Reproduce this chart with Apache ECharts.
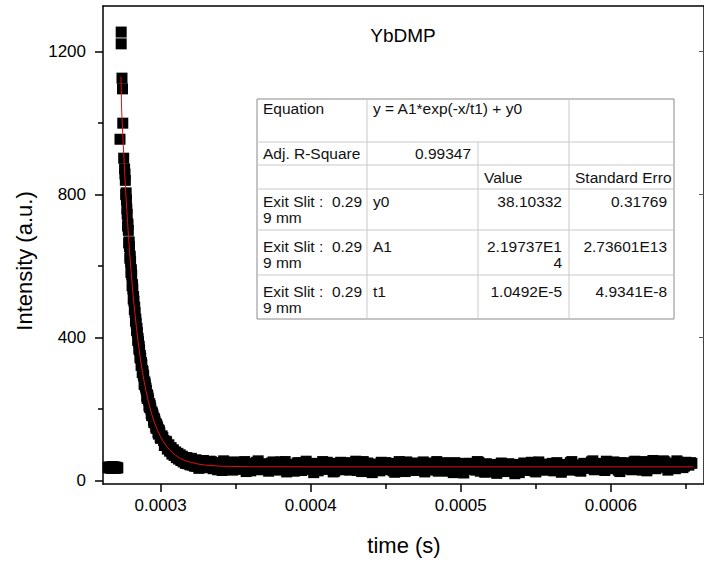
<!DOCTYPE html>
<html><head><meta charset="utf-8">
<script src="https://cdn.jsdelivr.net/npm/echarts@6/dist/echarts.min.js"></script>
<style>html,body{margin:0;padding:0;background:#fff}#c{width:704px;height:563px}</style>
</head><body><div id="c"></div>
<script>
// ---------------- data (time in microseconds, intensity in a.u.) ----------------
const preTimesUs = [265,265.5,266,266.5,267,267.5,268,268.5,269,269.5,270,270.5,271,271.5];
const preValues  = [37,35,38,36,34,37,39,35,36,38,34,37,36,35];

const peakTimesUs = [273.74,273.74,274.27,274.6,274.8,272.94,275.4];
const peakValues  = [1255,1222,1126,1096,1000,955,902];

// decay, first set of readings
const decayAStartUs = 276, decayAStepUs = 0.5;
const decayAValues = [872,840,805,760,712,700,668,622,612,590,545,536,515,478,470,452,420,414,398,368,
  365,350,322,324,308,296,270,276,262,252,230,236,225,205,210,200,182,188,180,162,170,160,146,154,148,130,140,133,118];
// decay, interleaved readings
const decayA2StartUs = 276.25, decayA2StepUs = 0.5;
const decayA2Values = [858,800,785,745,718,665,655,628,582,575,548,508,502,485,446,440,426,392,388,376,
  344,342,330,302,305,292,268,270,258,236,240,230,210,215,205,188,192,185,168,174,166,150,158,150,135,142,136,120];

const decayBStartUs = 301, decayBStepUs = 1;
const decayBValues = [125,112,98,108,96,82,92,84,70,80,74,60,72,66,52,64,58,47,60,54,43,56,50,40,52,47,36,50,45];
const decayB2StartUs = 301.5, decayB2StepUs = 1;
const decayB2Values = [120,98,110,88,100,90,74,86,78,64,76,70,56,68,62,48,64,58,44,62,52,40,58,48,34,54,44,56,38];

const tailStartUs = 330, tailStepUs = 2;
const tailValues = [
  48,36,52,41,30,47,55,38,44,29,50,42,35,53,40,27,46,51,33,44,
  38,26,49,43,31,52,37,24,45,40,33,50,28,41,47,35,22,44,39,53,
  31,42,48,26,37,51,34,45,29,40,54,36,25,43,49,32,38,46,27,41,
  50,33,44,23,39,47,30,52,36,42,28,45,38,24,49,34,41,53,31,37,
  46,26,43,50,32,39,21,44,48,35,29,51,40,23,37,45,30,20,42,34,
  25,47,36,19,41,33,49,28,38,44,24,52,35,30,46,39,27,50,42,33,
  45,29,53,37,41,26,48,34,43,55,31,39,47,28,44,36,52,40,25,49,
  35,46,30,54,42,38,50,27,45,56,33,48,41,52,29,47,39,55,44,36,
  51,43,48];
const tail2StartUs = 331, tail2StepUs = 2;
const tail2Values = [
  40,54,33,45,50,28,42,49,35,52,31,46,39,25,48,43,36,55,30,41,
  47,34,52,29,44,38,53,32,41,26,49,36,45,54,31,40,48,27,43,35,
  51,37,24,46,42,30,50,39,33,47,28,44,53,34,40,22,45,37,51,30,
  42,48,27,36,53,41,25,46,33,49,38,31,52,44,29,40,47,26,43,50,
  34,41,22,37,45,28,48,35,31,42,53,26,36,47,30,44,24,38,49,27,
  43,31,39,45,22,36,41,33,51,27,46,37,29,42,34,48,31,44,23,40,
  37,50,32,44,28,39,46,35,52,30,43,48,36,54,33,41,45,29,50,38,
  47,32,51,39,44,29,53,40,46,35,50,43,55,37,48,42,33,51,46,40,
  45,50];

// fitted curve
const fitTimesUs = [273.6,274,275,276,277,278,279,280,281,282,283,284,285,286,287,288,289,290,292,294,296,298,300,302,304,306,308,310,313,316,320,325,330,340,360,400,500,600,655];
const fitValues  = [1130,1040,951,865,790,722,660,603,552,505,463,424,389,357,328,302,278,256,218,187,161,140,122,108,96,86,77,71,62,56,51,46,43,40,38.4,38.1,38.1,38.1,38.1];

const xMajorTicks = [0.0003, 0.0004, 0.0005, 0.0006];
const xMinorTicks = [0.00035, 0.00045, 0.00055, 0.00065];
const yMajorTicks = [0, 400, 800, 1200];
const yMinorTicks = [200, 600, 1000];

const titleText = 'YbDMP';
const xName = 'time (s)';
const yName = 'Intensity (a.u.)';

const tableCells = [
  ['Equation', 'y = A1*exp(-x/t1) + y0', '', ''],
  ['Adj. R-Square', '0.99347', '', ''],
  ['', '', 'Value', 'Standard Erro'],
  ['Exit Slit :\u00a0 0.29\n9 mm', 'y0', '38.10332', '0.31769'],
  ['Exit Slit :\u00a0 0.29\n9 mm', 'A1', '2.19737E1\n4', '2.73601E13'],
  ['Exit Slit :\u00a0 0.29\n9 mm', 't1', '1.0492E-5', '4.9341E-8']
];

// ---------------- build ----------------
const US = 1e-6;
const points = [];
preTimesUs.forEach((t,i)=>points.push([t*US, preValues[i]]));
peakTimesUs.forEach((t,i)=>points.push([t*US, peakValues[i]]));
function addRun(start, step, vals){ vals.forEach((v,i)=>points.push([(start + i*step)*US, v])); }
addRun(decayAStartUs, decayAStepUs, decayAValues);
addRun(decayA2StartUs, decayA2StepUs, decayA2Values);
addRun(decayBStartUs, decayBStepUs, decayBValues);
addRun(decayB2StartUs, decayB2StepUs, decayB2Values);
addRun(tailStartUs, tailStepUs, tailValues);
addRun(tail2StartUs, tail2StepUs, tail2Values);
const fitLine = fitTimesUs.map((t,i)=>[t*US, fitValues[i]]);

const X_MIN = 0.00026162, X_MAX = 0.00066207;
const Y_MIN = -9.8, Y_MAX = 1327.9;
const FONT = "'Liberation Sans', Arial, Helvetica, sans-serif";

// table layout
const colEdges = [257, 367, 478, 569, 674];
const rowEdges = [99, 142, 165, 189, 230, 275, 319];
const rowTextY = [108, 153, 177, 201.5, 246.5, 291.5];
const LH = 15.5;
const leftPad = 6, rightPad = 7;
const graphics = [];
graphics.push({type:'rect', shape:{x:colEdges[0], y:rowEdges[0], width:colEdges[4]-colEdges[0], height:rowEdges[6]-rowEdges[0]},
  style:{fill:'#fff', stroke:'#8a8a8a', lineWidth:1}, z:10});
for (let r=1; r<rowEdges.length-1; r++) {
  graphics.push({type:'line', shape:{x1:colEdges[0], y1:rowEdges[r], x2:colEdges[4], y2:rowEdges[r]}, style:{stroke:'#c9c9c9', lineWidth:1}, z:11});
}
graphics.push({type:'line', shape:{x1:colEdges[1], y1:rowEdges[0], x2:colEdges[1], y2:rowEdges[6]}, style:{stroke:'#c9c9c9', lineWidth:1}, z:11});
graphics.push({type:'line', shape:{x1:colEdges[2], y1:rowEdges[1], x2:colEdges[2], y2:rowEdges[6]}, style:{stroke:'#c9c9c9', lineWidth:1}, z:11});
graphics.push({type:'line', shape:{x1:colEdges[3], y1:rowEdges[0], x2:colEdges[3], y2:rowEdges[6]}, style:{stroke:'#c9c9c9', lineWidth:1}, z:11});
tableCells.forEach((row, r) => {
  row.forEach((txt, c) => {
    if (!txt) return;
    let right = false;
    if ((c === 1 && r === 1) || (c >= 2 && r >= 3)) right = true;
    const x = right ? colEdges[c+1] - rightPad : colEdges[c] + leftPad;
    graphics.push({type:'text', x:x, y:rowTextY[r] - LH/2, z:12,
      style:{text:txt, fill:'#111', fontSize:15.5, fontFamily:FONT, lineHeight:LH,
        textAlign: right ? 'right' : 'left', textVerticalAlign:'top', verticalAlign:'top', align: right ? 'right' : 'left'}});
  });
});
graphics.push({type:'text', x:403, y:35, z:12, style:{text:titleText, fill:'#000', fontSize:19, fontFamily:FONT, align:'center', verticalAlign:'middle', textAlign:'center', textVerticalAlign:'middle'}});
graphics.push({type:'text', x:404, y:545, z:12, style:{text:xName, fill:'#000', fontSize:22, fontFamily:FONT, align:'center', verticalAlign:'middle', textAlign:'center', textVerticalAlign:'middle'}});
graphics.push({type:'text', x:24, y:261, rotation:Math.PI/2, z:12, style:{text:yName, fill:'#000', fontSize:22, fontFamily:FONT, align:'center', verticalAlign:'middle', textAlign:'center', textVerticalAlign:'middle'}});

const lineBlack = {color:'#000', width:1.5};
const option = {
  animation:false,
  backgroundColor:'#fff',
  grid:{left:103, top:6, width:602, height:478, containLabel:false},
  xAxis:[
    {type:'value', min:X_MIN, max:X_MAX, position:'bottom',
     axisLine:{show:true, onZero:false, lineStyle:lineBlack},
     axisTick:{show:true, inside:false, length:8, customValues:xMajorTicks, lineStyle:lineBlack},
     axisLabel:{show:true, customValues:xMajorTicks, formatter:v=>Number(v).toFixed(4), margin:13, fontSize:17, color:'#000', fontFamily:FONT},
     splitLine:{show:false}},
    {type:'value', min:X_MIN, max:X_MAX, position:'bottom',
     axisLine:{show:false, onZero:false},
     axisTick:{show:true, inside:false, length:5, customValues:xMinorTicks, lineStyle:lineBlack},
     axisLabel:{show:false}, splitLine:{show:false}},
    {type:'value', min:X_MIN, max:X_MAX, position:'top',
     axisLine:{show:true, onZero:false, lineStyle:lineBlack},
     axisTick:{show:false}, axisLabel:{show:false}, splitLine:{show:false}}
  ],
  yAxis:[
    {type:'value', min:Y_MIN, max:Y_MAX, position:'left',
     axisLine:{show:true, onZero:false, lineStyle:lineBlack},
     axisTick:{show:true, inside:false, length:8, customValues:yMajorTicks, lineStyle:lineBlack},
     axisLabel:{show:true, customValues:yMajorTicks, formatter:v=>String(Math.round(v)), margin:17, fontSize:17, color:'#000', fontFamily:FONT},
     splitLine:{show:false}},
    {type:'value', min:Y_MIN, max:Y_MAX, position:'left',
     axisLine:{show:false, onZero:false},
     axisTick:{show:true, inside:false, length:5, customValues:yMinorTicks, lineStyle:lineBlack},
     axisLabel:{show:false}, splitLine:{show:false}},
    {type:'value', min:Y_MIN, max:Y_MAX, position:'right',
     axisLine:{show:true, onZero:false, lineStyle:lineBlack},
     axisTick:{show:true, inside:true, length:5, customValues:[400,800,1200], lineStyle:{color:'#555', width:1}},
     axisLabel:{show:false}, splitLine:{show:false}}
  ],
  series:[
    {type:'scatter', name:'data', xAxisIndex:0, yAxisIndex:0, data:points, symbol:'rect', symbolSize:[11,11],
     itemStyle:{color:'#000', opacity:1}, z:2, silent:true, large:false},
    {type:'line', name:'fit', xAxisIndex:0, yAxisIndex:0, data:fitLine, showSymbol:false, symbol:'none', smooth:false,
     lineStyle:{color:'#e01010', width:1}, z:3, silent:true}
  ],
  graphic:graphics
};
const chart = echarts.init(document.getElementById('c'), null, {renderer:'svg'});
chart.setOption(option);
</script></body></html>
